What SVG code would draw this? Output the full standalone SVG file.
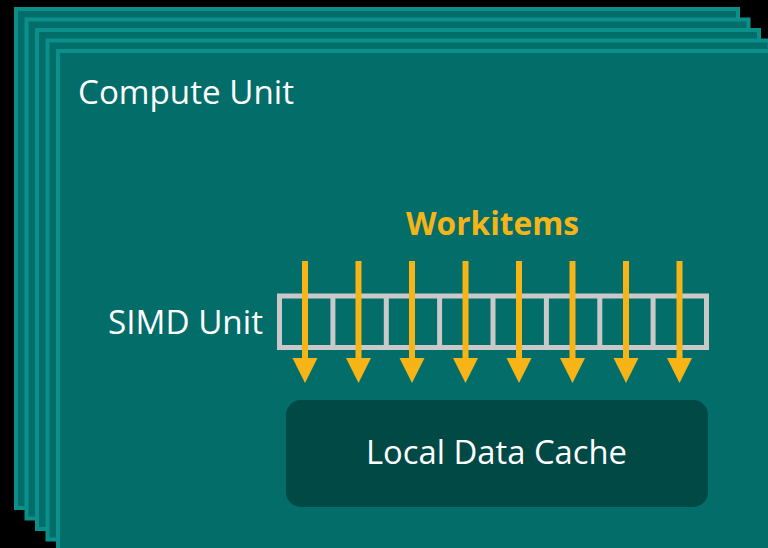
<svg xmlns="http://www.w3.org/2000/svg" width="768" height="548" viewBox="0 0 768 548">
<defs>
<style>
.layer{fill:#036d6a;stroke:#0b8f8b;stroke-width:4}
.lbl{font-family:"Open Sans","Noto Sans",sans-serif;fill:#ffffff}
.wi{font-family:"Open Sans","Noto Sans",sans-serif;font-weight:bold;fill:#f7b417}
.cell{fill:none;stroke:#c9c9c9;stroke-width:5}
.shaft{stroke:#f7b417;stroke-width:6}
.head{fill:#f7b417}
</style>
</defs>
<rect width="768" height="548" fill="#000000"/>
<g id="compute-unit-stack">
<rect class="layer" x="16" y="9" width="722" height="499"/>
<rect class="layer" x="26.5" y="19.5" width="722" height="499"/>
<rect class="layer" x="37" y="30" width="722" height="499"/>
<rect class="layer" x="47.5" y="40.5" width="722" height="499"/>
<rect class="layer" x="58" y="51" width="722" height="499"/>
<text class="lbl" x="78" y="103.5" font-size="33" textLength="216" lengthAdjust="spacingAndGlyphs">Compute Unit</text>
</g>
<g id="simd-unit">
<text class="lbl" x="108" y="333.5" font-size="33" textLength="155" lengthAdjust="spacingAndGlyphs">SIMD Unit</text>
<rect class="cell" x="279.5" y="296" width="427" height="51.5"/>
<path class="cell" d="M332.9 296V347.5M386.3 296V347.5M439.6 296V347.5M493 296V347.5M546.4 296V347.5M599.8 296V347.5M653.1 296V347.5"/>
</g>
<g id="local-data-cache">
<rect x="286" y="400" width="422" height="107" rx="15" fill="#004945"/>
<text class="lbl" x="366" y="464" font-size="33" textLength="261" lengthAdjust="spacingAndGlyphs">Local Data Cache</text>
</g>
<g id="workitems">
<text class="wi" x="406" y="235" font-size="32" textLength="173" lengthAdjust="spacingAndGlyphs">Workitems</text>
</g>
<g id="connectors">
<g transform="translate(305,0)"><line class="shaft" x1="0" y1="261" x2="0" y2="360"/><polygon class="head" points="-12.5,358 12.5,358 0,383"/></g>
<g transform="translate(358.5,0)"><line class="shaft" x1="0" y1="261" x2="0" y2="360"/><polygon class="head" points="-12.5,358 12.5,358 0,383"/></g>
<g transform="translate(412,0)"><line class="shaft" x1="0" y1="261" x2="0" y2="360"/><polygon class="head" points="-12.5,358 12.5,358 0,383"/></g>
<g transform="translate(465.5,0)"><line class="shaft" x1="0" y1="261" x2="0" y2="360"/><polygon class="head" points="-12.5,358 12.5,358 0,383"/></g>
<g transform="translate(519,0)"><line class="shaft" x1="0" y1="261" x2="0" y2="360"/><polygon class="head" points="-12.5,358 12.5,358 0,383"/></g>
<g transform="translate(572.5,0)"><line class="shaft" x1="0" y1="261" x2="0" y2="360"/><polygon class="head" points="-12.5,358 12.5,358 0,383"/></g>
<g transform="translate(626,0)"><line class="shaft" x1="0" y1="261" x2="0" y2="360"/><polygon class="head" points="-12.5,358 12.5,358 0,383"/></g>
<g transform="translate(679.5,0)"><line class="shaft" x1="0" y1="261" x2="0" y2="360"/><polygon class="head" points="-12.5,358 12.5,358 0,383"/></g>
</g>
</svg>
